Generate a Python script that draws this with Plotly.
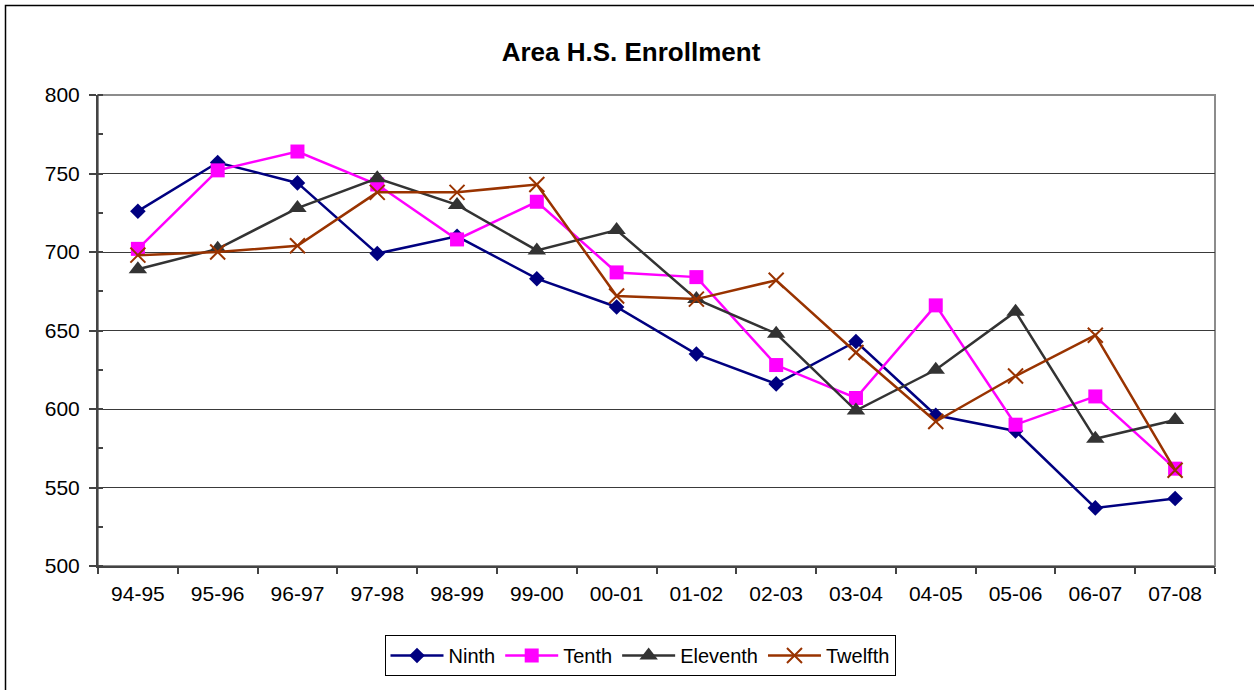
import plotly.graph_objects as go

years = ["94-95", "95-96", "96-97", "97-98", "98-99", "99-00", "00-01",
         "01-02", "02-03", "03-04", "04-05", "05-06", "06-07", "07-08"]

ninth = [726, 757, 744, 699, 710, 683, 665, 635, 616, 643, 596, 586, 537, 543]
tenth = [702, 752, 764, 743, 708, 732, 687, 684, 628, 607, 666, 590, 608, 562]
eleventh = [689, 702, 728, 747, 730, 701, 714, 670, 648, 599, 625, 662, 581, 593]
twelfth = [698, 700, 704, 738, 738, 743, 672, 670, 682, 636, 592, 621, 647, 561]

W, H = 1254, 690
L, R, T, B = 98, 1215, 95, 566  # plot area in pixels

font_family = "Liberation Sans, Arial, sans-serif"

fig = go.Figure()

series = [
    ("Ninth", ninth, "#000080", dict(symbol="diamond", size=12)),
    ("Tenth", tenth, "#FF00FF", dict(symbol="square", size=14)),
    ("Eleventh", eleventh, "#333333", dict(symbol="triangle-up", size=16)),
    ("Twelfth", twelfth, "#993300",
     dict(symbol="x-thin-open", size=15, line=dict(width=2, color="#993300"))),
]

for name, vals, color, mk in series:
    fig.add_trace(go.Scatter(
        x=years, y=vals, name=name, mode="lines+markers",
        line=dict(color=color, width=2.5),
        marker=dict(color=color, **mk),
    ))

def px_x(p):
    return (p - L) / (R - L)

def px_y(p):
    return (B - p) / (B - T)

shapes = [
    # outer chart border
    dict(type="rect", xref="paper", yref="paper",
         x0=px_x(5.5), x1=px_x(1262), y0=px_y(5.5), y1=px_y(700),
         line=dict(color="#000000", width=1.5), layer="below"),
    # plot area frame
    dict(type="rect", xref="paper", yref="paper",
         x0=0, x1=1, y0=0, y1=1,
         line=dict(color="#8c8c8c", width=2), layer="below"),
]

fig.update_layout(
    width=W, height=H,
    margin=dict(l=L, r=W - R, t=T, b=H - B),
    paper_bgcolor="white", plot_bgcolor="white",
    font=dict(family=font_family, size=20, color="#000000"),
    title=dict(text="<b>Area H.S. Enrollment</b>",
               xref="container", x=631 / W, xanchor="center",
               yref="container", y=1 - 52 / H, yanchor="middle",
               font=dict(size=26, family=font_family, color="#000000")),
    shapes=shapes,
    showlegend=True,
    legend=dict(orientation="h", x=px_x(640), xanchor="center",
                y=px_y(635), yanchor="top",
                bordercolor="#000000", borderwidth=1, bgcolor="white",
                font=dict(size=20, family=font_family),
                itemwidth=53, tracegroupgap=0),
)

fig.update_xaxes(
    type="category", range=[-0.5, 13.5],
    showline=True, linecolor="#444444", linewidth=2,
    ticks="outside", tickson="boundaries", ticklen=6, tickcolor="#444444",
    tickwidth=1.5, showgrid=False, zeroline=False,
    ticklabelstandoff=8,
    tickfont=dict(size=21, family=font_family),
)

fig.update_yaxes(
    range=[500, 800], dtick=50, tick0=500,
    showline=True, linecolor="#444444", linewidth=2,
    ticks="outside", ticklen=7, tickcolor="#444444", tickwidth=1.5,
    showgrid=True, gridcolor="#3a3a3a", gridwidth=1, zeroline=False,
    minor=dict(ticks="inside", dtick=25, ticklen=5, tickcolor="#444444",
               tickwidth=1.5, showgrid=False),
    ticklabelstandoff=5,
    tickfont=dict(size=21, family=font_family),
)

fig.write_html("out.html")
